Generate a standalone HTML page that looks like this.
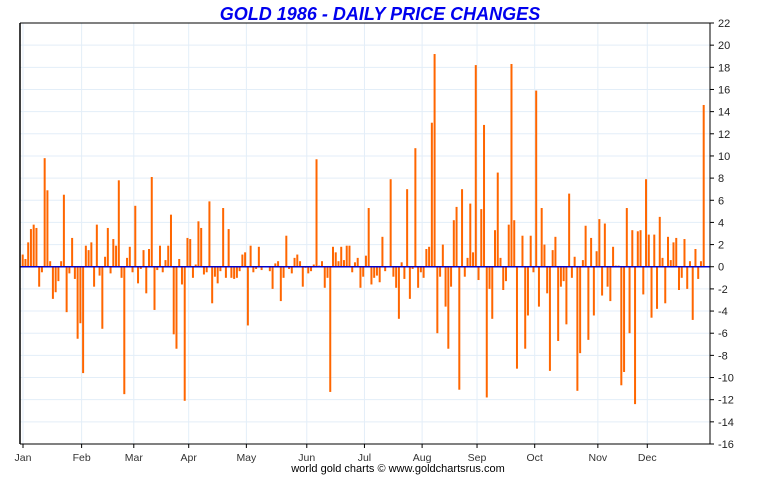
<!DOCTYPE html>
<html><head><meta charset="utf-8"><style>
body{margin:0;background:#fff;width:760px;height:475px;overflow:hidden;font-family:"Liberation Sans",sans-serif}
</style></head><body>
<svg id="chart" width="760" height="475" xmlns="http://www.w3.org/2000/svg">
<text x="380" y="20" text-anchor="middle" font-family="Liberation Sans" font-weight="bold" font-style="italic" font-size="18" fill="#0000ee">GOLD 1986 - DAILY PRICE CHANGES</text>
<text x="398" y="472" text-anchor="middle" font-family="Liberation Sans" font-size="11" fill="#000">world gold charts © www.goldchartsrus.com</text>
<g id="grid"></g><g id="bars"></g><g id="axes"></g>
</svg>
<script>
const values = [1.1,0.7,2.2,3.4,3.8,3.5,-1.8,-0.5,9.8,6.9,0.5,-2.9,-2.3,-1.3,0.5,6.5,-4.1,-0.6,2.6,-1.1,-6.5,-5.1,-9.6,1.9,1.5,2.2,-1.8,3.8,-0.8,-5.6,0.9,3.5,-0.6,2.5,1.9,7.8,-1.0,-11.5,0.8,1.8,-0.5,5.5,-1.5,
-0.2,1.5,-2.4,1.6,8.1,-3.9,-0.3,1.9,-0.5,0.6,1.9,4.7,-6.1,-7.4,0.7,-1.6,-12.1,2.6,2.5,-1.0,0.2,4.1,3.5,-0.7,-0.5,5.9,-3.3,-0.9,-1.5,-0.4,5.3,-1.0,3.4,-1.0,-1.1,-1.0,-0.4,1.1,1.3,-5.3,1.9,-0.5,
-0.2,1.8,-0.3,0,0,-0.4,-2.0,0.3,0.5,-3.1,-1.0,2.8,-0.2,-0.6,0.8,1.1,0.5,-1.8,-0.1,-0.6,-0.4,0.2,9.7,0.1,0.5,-1.9,-1.0,-11.3,1.8,1.3,0.5,1.8,0.6,1.9,1.9,-0.5,0.4,0.8,-1.9,-0.9,1.0,5.3,
-1.6,-1.0,-0.8,-1.4,2.7,-0.4,0,7.9,-0.9,-1.9,-4.7,0.4,-1.1,7.0,-2.9,-0.2,10.7,-1.9,-0.5,-1.0,1.6,1.8,13.0,19.2,-6.0,-0.9,2.0,-3.6,-7.4,-1.8,4.2,5.4,-11.1,7.0,-0.9,0.8,5.7,1.3,18.2,-1.2,5.2,12.8,-11.8,
-2.0,-4.7,3.3,8.5,0.8,-2.1,-1.3,3.8,18.3,4.2,-9.2,0,2.8,-7.4,-4.4,2.8,-0.5,15.9,-3.6,5.3,2.0,-2.4,-9.4,1.5,2.7,-6.7,-1.8,-1.3,-5.2,6.6,-1.0,0.9,-11.2,-7.8,0.6,3.7,-6.6,2.6,-4.4,1.4,4.3,-2.6,3.9,
-1.8,-3.1,1.8,0.1,0.1,-10.7,-9.5,5.3,-6.0,3.3,-12.4,3.2,3.3,-2.5,7.9,2.9,-4.6,2.9,-3.8,4.5,0.8,-3.3,2.7,0.6,2.2,2.6,-2.1,-1.0,2.5,-2.0,0.5,-4.8,1.6,-1.1,0.5,14.6];
const yTicks = [22,20,18,16,14,12,10,8,6,4,2,0,-2,-4,-6,-8,-10,-12,-14,-16];
const months = ["Jan","Feb","Mar","Apr","May","Jun","Jul","Aug","Sep","Oct","Nov","Dec"];
const monthStartDay = [0,22,41,61,82,104,125,146,166,187,210,228];

const NS="http://www.w3.org/2000/svg";
const X0=20, X1=710, Y_TOP=23, Y_BOT=444, YMAX=22, YMIN=-16;
const FIRST=22.7, STEP=(703.7-22.7)/(values.length-1);
function y(v){return Y_TOP+(YMAX-v)*(Y_BOT-Y_TOP)/(YMAX-YMIN);}
function xDay(i){return FIRST+i*STEP;}
function mk(tag,attrs,parent){const e=document.createElementNS(NS,tag);for(const k in attrs)e.setAttribute(k,attrs[k]);parent.appendChild(e);return e;}
const grid=document.getElementById('grid'),bars=document.getElementById('bars'),axes=document.getElementById('axes');

yTicks.forEach(t=>{
  const g=mk('line',{x1:X0,x2:X1,y1:y(t),y2:y(t),stroke:'#e3eef8','stroke-width':1},grid);
  
  
  const tk=mk('line',{x1:X1,x2:X1+4,y1:y(t),y2:y(t),stroke:'#000','stroke-width':1},axes);
  
  
  const lb=mk('text',{x:718,y:y(t)+4,'font-size':11,'font-family':'Liberation Sans',fill:'#222'},axes);
  lb.textContent=t;
  
  
});
months.forEach((m,i)=>{
  const gx=i===0?X0+3:xDay(monthStartDay[i])-1.5;
  const g=mk('line',{x1:gx,x2:gx,y1:Y_TOP,y2:Y_BOT,stroke:'#e3eef8','stroke-width':1},grid);
  
  
  const tk=mk('line',{x1:gx,x2:gx,y1:Y_BOT,y2:Y_BOT+4,stroke:'#000','stroke-width':1},axes);
  
  
  const lb=mk('text',{x:gx,y:461,'text-anchor':'middle','font-size':10.5,'font-family':'Liberation Sans',fill:'#333'},axes);
  lb.textContent=m;
  
  
});
values.forEach((v,i)=>{
  const top=Math.min(y(v),y(0)),h=Math.abs(y(v)-y(0));
  const r=mk('rect',{x:xDay(i)-1,y:top,width:2,height:Math.max(h,0.5),fill:'#ff6600'},bars);
  
  
});
let z=mk('line',{x1:X0,x2:X1,y1:y(0),y2:y(0),stroke:'#0000cc','stroke-width':1.5},axes);


let la=mk('line',{x1:X0,x2:X0,y1:Y_TOP,y2:Y_BOT,stroke:'#000','stroke-width':1.5},axes);


let ra=mk('line',{x1:X1,x2:X1,y1:Y_TOP,y2:Y_BOT,stroke:'#000','stroke-width':1},axes);


let ta=mk('line',{x1:X0,x2:X1,y1:Y_TOP,y2:Y_TOP,stroke:'#000','stroke-width':1},axes);


let ba=mk('line',{x1:X0,x2:X1,y1:Y_BOT,y2:Y_BOT,stroke:'#000','stroke-width':1},axes);


</script>
</body></html>
